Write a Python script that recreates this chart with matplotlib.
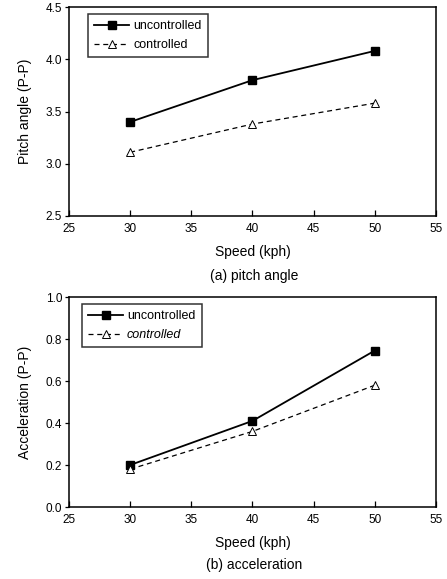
import matplotlib
matplotlib.use("Agg")
import matplotlib.pyplot as plt

plt.rcParams['font.family'] = ['Liberation Sans', 'DejaVu Sans']

speed = [30, 40, 50]
pitch_uncontrolled = [3.40, 3.80, 4.08]
pitch_controlled = [3.11, 3.38, 3.58]
acc_uncontrolled = [0.20, 0.41, 0.745]
acc_controlled = [0.18, 0.36, 0.58]

xticks = [25, 30, 35, 40, 45, 50, 55]
pitch_yticks = [2.5, 3.0, 3.5, 4.0, 4.5]
acc_yticks = [0.0, 0.2, 0.4, 0.6, 0.8, 1.0]

W, H = 447, 579
fig = plt.figure(figsize=(W/100, H/100), dpi=100)

def make_ax(top_px, bottom_px):
    left, right = 69, 436
    return fig.add_axes([left/W, 1 - bottom_px/H, (right-left)/W, (bottom_px-top_px)/H])

fs = 8.5

def style(ax, yticks, ylabel, yfmt, caption, cap_y):
    ax.set_xlim(25, 55)
    ax.set_xticks(xticks)
    ax.set_xticklabels([str(t) for t in xticks], fontsize=fs)
    ax.set_ylim(yticks[0], yticks[-1])
    ax.set_yticks(yticks)
    ax.set_yticklabels([yfmt.format(t) for t in yticks], fontsize=fs)
    ax.tick_params(axis='x', direction='in', length=4, width=0.9, pad=5)
    ax.tick_params(axis='y', direction='out', length=3, width=0.9, pad=2)
    for s in ax.spines.values():
        s.set_linewidth(1.1)
    ax.set_xlabel('Speed (kph)', fontsize=10, labelpad=7)
    ax.set_ylabel(ylabel, fontsize=10, labelpad=10)
    fig.text(254/W, 1 - cap_y/H, caption, ha='center', va='center', fontsize=10)

def draw(ax, unc, con):
    ax.plot(speed, unc, '-', color='black', lw=1.3, marker='s', ms=6,
            mfc='black', label='uncontrolled')
    ax.plot(speed, con, '--', color='black', lw=0.9, marker='^', ms=6,
            mfc='white', mew=0.7, dashes=(4, 3), label='controlled')

ax1 = make_ax(7, 216)
draw(ax1, pitch_uncontrolled, pitch_controlled)
style(ax1, pitch_yticks, 'Pitch angle (P-P)', '{:.1f}', '(a) pitch angle', 276)
leg1 = ax1.legend(loc='upper left', bbox_to_anchor=(19/367, 1 - 7/209), fontsize=9,
                  frameon=True, fancybox=False, edgecolor='black', handlelength=2.8,
                  borderaxespad=0, labelspacing=0.55, borderpad=0.5, handletextpad=0.3)
leg1.get_frame().set_linewidth(1.1)

ax2 = make_ax(297, 507)
draw(ax2, acc_uncontrolled, acc_controlled)
style(ax2, acc_yticks, 'Acceleration (P-P)', '{:.1f}', '(b) acceleration', 565)
leg2 = ax2.legend(loc='upper left', bbox_to_anchor=(13/367, 1 - 7/210), fontsize=9,
                  frameon=True, fancybox=False, edgecolor='black', handlelength=2.8,
                  borderaxespad=0, labelspacing=0.55, borderpad=0.5, handletextpad=0.3)
leg2.get_frame().set_linewidth(1.1)
leg2.get_texts()[1].set_style('italic')

fig.savefig('out.png', dpi=100)
